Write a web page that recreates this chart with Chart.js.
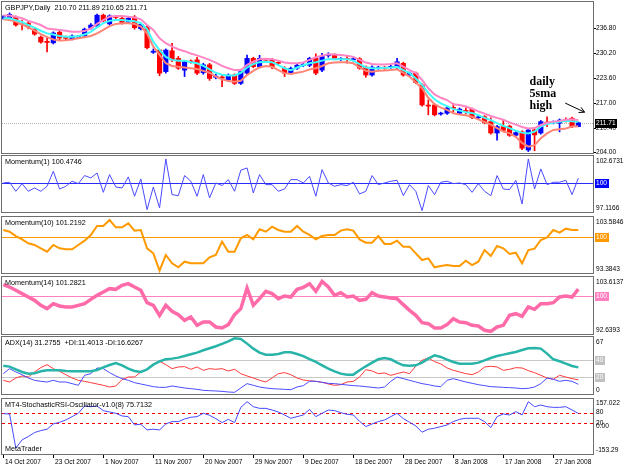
<!DOCTYPE html>
<html>
<head>
<meta charset="utf-8">
<script src="https://cdn.jsdelivr.net/npm/chart.js@4.4.0/dist/chart.umd.min.js"></script>
<style>
  html, body { margin: 0; padding: 0; background: #fff; }
  #wrap { position: relative; width: 625px; height: 469px; overflow: hidden; background: #fff; }
  #wrap canvas { position: absolute; left: 0; }
</style>
</head>
<body>
<div id="wrap"></div>
<script>
// GBPJPY daily bars, 14 Oct 2007 .. 31 Jan 2008
const opens = [239.3,239.4,239.6,237.9,238.0,236.4,234.3,233.2,232.8,235.6,
  234.2,233.9,234.3,234.6,236.7,237.2,240.1,237.8,239.7,239.3,
  238.3,239.6,236.5,237.0,230.3,230.9,225.2,230.7,228.7,225.6,
  228.0,228.3,224.9,227.0,223.7,223.8,223.0,224.3,222.1,224.8,
  228.7,226.5,228.4,228.3,227.5,226.1,224.8,226.1,226.8,226.9,
  228.7,225.6,229.4,229.6,228.4,228.6,228.3,228.6,226.4,224.3,
  226.1,226.3,226.3,226.3,227.4,224.3,224.8,221.7,216.3,216.4,
  214.0,214.2,215.6,214.2,214.9,215.3,213.0,213.3,212.0,209.0,
  210.7,210.8,208.4,209.3,204.5,209.8,209.0,211.8,211.7,211.6,
  212.5,212.9,210.70];
const highs = [240.0,240.7,239.9,238.8,238.5,236.8,234.6,234.3,235.7,236.0,
  234.6,234.9,234.7,236.7,237.9,240.4,240.4,240.2,240.0,239.6,
  239.6,240.0,238.0,237.3,231.2,231.0,231.2,232.7,229.2,228.2,
  228.3,229.0,227.4,227.4,224.5,224.3,224.6,224.6,225.5,229.6,
  229.0,229.5,228.6,228.7,227.8,226.5,226.4,227.2,227.4,229.0,
  229.9,230.0,230.2,229.9,228.9,229.3,228.9,228.9,226.7,226.7,
  226.6,226.6,226.9,228.7,227.7,225.1,225.1,222.0,217.7,216.7,
  214.5,215.8,216.8,215.6,215.6,215.6,213.5,213.6,213.0,211.0,
  212.4,211.1,209.4,209.6,210.1,210.1,212.3,213.3,212.2,212.7,
  213.0,213.2,211.89];
const lows = [239.0,239.2,237.2,236.2,236.5,234.8,232.7,230.4,232.5,233.5,
  233.6,233.6,234.0,234.3,236.4,237.0,238.3,237.5,239.2,237.7,
  238.0,236.4,236.2,231.2,230.0,224.1,224.8,227.8,225.8,223.9,
  227.4,224.4,224.5,222.9,223.3,221.2,222.7,221.8,221.8,224.4,
  226.2,226.2,227.9,226.0,227.1,223.9,224.5,225.8,226.5,226.5,
  224.4,225.2,229.0,228.4,228.1,227.4,228.0,225.8,223.7,224.0,
  225.8,225.8,226.0,226.0,224.0,224.0,222.0,216.1,213.8,213.5,
  213.7,213.9,214.5,213.9,214.0,212.8,212.7,211.4,208.7,207.1,
  209.4,208.1,208.1,204.6,204.1,204.3,208.7,210.7,211.4,209.3,
  211.9,210.4,210.65];
const closes = [239.7,240.3,237.5,237.7,237.0,235.1,233.0,232.9,235.4,234.1,
  234.0,234.6,234.4,236.4,237.5,240.1,238.6,239.9,239.5,238.0,
  239.3,236.8,237.7,231.5,230.6,224.8,230.9,228.3,226.1,227.8,
  227.7,224.8,227.0,223.4,224.0,223.5,224.3,222.1,225.2,228.7,
  226.5,228.7,228.2,226.5,227.4,224.8,226.1,226.9,227.1,228.7,
  224.8,229.2,229.7,228.7,228.6,228.4,228.6,226.1,224.3,226.4,
  226.3,226.1,226.6,227.8,224.3,224.8,222.3,216.4,216.1,213.8,
  214.2,215.6,215.5,215.3,214.7,213.1,213.2,211.7,209.0,210.7,
  209.7,208.4,209.1,205.0,209.8,208.5,212.0,211.6,211.9,212.4,
  212.3,210.7,211.71];

// moving average envelopes on the price chart
const maHigh = [240.0,240.0,239.7,239.3,238.6,238.1,237.5,236.6,236.4,236.2,
  236.0,235.7,235.7,235.9,236.6,237.8,238.8,239.7,239.9,239.9,
  239.7,239.5,239.0,237.5,236.2,234.0,232.7,231.8,231.1,230.6,
  230.0,229.5,228.9,228.3,227.6,226.7,226.1,225.6,225.6,227.0,
  227.8,228.5,228.6,228.5,228.1,227.6,227.4,227.4,227.6,228.3,
  229.0,229.4,229.8,229.7,229.6,229.4,229.1,228.3,227.6,227.2,
  227.1,227.1,227.2,227.4,226.5,225.6,224.8,223.0,220.8,219.2,
  218.3,217.7,216.6,216.4,216.0,215.4,214.7,214.1,213.5,213.0,
  212.5,211.8,211.2,210.6,210.2,210.3,211.1,211.7,212.0,212.2,
  212.5,212.6,212.4];
const maClose = [239.3,239.3,238.8,238.3,237.5,236.8,236.0,235.3,235.0,234.6,
  234.4,234.4,234.6,235.0,235.7,236.9,238.0,238.6,238.8,238.8,
  238.6,238.5,238.0,236.4,233.1,230.9,229.1,228.3,228.1,228.1,
  227.7,227.4,226.7,225.8,224.9,224.4,224.2,224.2,224.9,226.3,
  227.2,227.7,227.8,227.7,226.9,226.1,225.6,226.3,226.9,227.4,
  227.7,228.1,228.5,228.5,228.5,228.5,228.1,227.2,226.3,226.1,
  226.1,226.2,226.3,226.5,225.6,224.8,223.4,221.7,219.6,217.9,
  216.8,216.1,215.3,214.9,214.5,214.3,213.7,213.0,212.4,211.6,
  210.9,210.3,209.6,209.1,208.9,209.4,210.7,211.4,211.7,212.0,
  212.2,212.1,212.0];
const maLow = [239.0,238.8,238.4,237.7,236.9,236.0,235.1,234.3,233.7,233.4,
  233.5,233.7,234.0,234.3,234.6,235.3,236.2,237.2,237.8,238.0,
  238.0,237.8,237.1,235.3,231.8,229.6,227.4,226.7,226.5,226.3,
  226.1,225.9,225.4,224.9,223.9,223.2,222.7,222.5,222.8,224.3,
  225.4,226.3,226.7,226.5,225.6,224.8,224.6,224.9,225.2,225.8,
  226.1,226.7,227.4,227.6,227.7,227.7,227.4,226.3,225.4,225.2,
  225.4,225.5,225.6,225.8,224.9,223.9,222.3,220.8,218.3,216.6,
  215.7,215.1,214.2,213.9,213.7,213.3,212.6,211.9,211.2,210.3,
  209.4,208.9,208.0,206.4,205.4,205.8,207.6,208.9,209.8,210.0,
  210.2,210.7,210.8];

const mom1 = [100.00,100.07,99.17,99.93,99.17,99.50,99.17,99.67,101.16,99.40,
  99.67,100.17,99.93,100.73,100.50,100.99,99.07,100.83,99.60,99.50,
  100.60,98.68,100.40,97.35,99.60,97.52,102.38,98.84,98.74,100.73,
  100.17,98.68,100.83,98.51,100.00,99.74,100.33,99.17,101.26,101.49,
  99.01,100.83,99.83,99.83,99.17,99.40,100.33,100.33,100.00,100.66,
  98.68,101.32,100.00,99.67,99.83,99.74,100.07,98.91,99.17,100.73,
  99.83,100.00,100.17,100.26,98.74,99.83,99.17,97.25,99.74,98.84,
  100.07,100.17,99.93,100.00,99.83,99.07,99.93,99.17,98.74,100.73,
  99.40,99.34,100.26,97.91,102.38,99.40,101.39,99.83,100.07,100.07,
  100.26,98.84,100.4746];
const mom10 = [101.22,100.91,100.12,99.51,98.79,98.49,97.88,97.27,98.49,97.88,
  97.70,97.70,98.49,99.27,100.31,101.95,101.95,103.04,101.70,101.70,
  102.43,101.10,101.22,97.88,96.97,93.81,96.66,95.15,94.42,95.45,
  95.15,95.15,95.15,96.24,96.66,99.09,97.27,97.27,99.70,100.31,
  99.51,101.34,100.91,101.82,101.22,100.91,100.91,101.95,100.91,100.31,
  99.51,100.12,100.31,100.31,101.10,101.34,101.10,99.51,98.91,98.91,
  100.12,98.67,98.67,99.27,98.18,98.18,96.97,95.75,96.06,94.42,
  94.66,94.84,94.66,94.66,95.63,94.84,95.45,97.57,96.48,98.30,
  97.88,96.85,97.09,95.15,97.57,97.82,99.40,99.88,101.22,100.73,
  101.46,101.22,101.2192];
const mom14 = [102.14,101.69,101.05,100.41,99.76,99.12,98.16,97.52,98.48,98.03,
  97.84,97.84,98.16,98.48,99.31,100.08,100.73,101.37,101.24,102.01,
  102.33,101.69,101.05,98.67,98.16,96.23,98.16,97.00,96.36,95.27,
  95.91,94.31,94.95,94.95,93.99,93.80,94.44,96.36,97.52,101.50,
  98.16,99.44,100.85,100.41,99.44,99.96,99.76,101.24,101.62,102.33,
  100.85,102.75,101.69,100.08,100.60,99.76,99.96,99.12,99.31,100.60,
  99.96,99.76,99.57,99.44,98.29,97.20,96.23,94.82,94.63,93.80,
  93.80,94.44,95.59,94.95,94.82,94.31,94.18,93.35,93.15,93.99,
  94.31,96.23,96.55,96.04,97.84,97.39,98.48,98.48,98.67,99.76,
  99.96,99.76,101.2821];

const adx = [33.33,32.16,29.02,25.88,23.92,24.31,26.67,27.84,27.84,27.84,
  27.06,26.67,26.67,26.67,26.67,28.24,31.37,34.12,36.47,33.73,
  29.80,27.06,25.88,29.02,34.51,38.43,40.78,41.57,42.75,44.71,
  46.67,48.63,51.37,53.73,56.08,58.82,61.96,65.49,64.71,59.22,
  53.33,48.63,46.27,46.27,47.06,49.02,49.02,47.06,44.50,41.00,
  37.65,33.73,29.80,26.67,23.92,22.75,22.75,27.84,32.55,36.86,
  40.78,42.35,40.78,36.86,33.73,33.33,33.73,36.86,41.57,45.49,
  43.53,40.39,37.65,35.69,35.69,35.69,36.86,39.61,42.35,44.71,
  46.27,47.84,49.41,51.77,53.73,54.12,53.33,47.45,40.78,38.43,
  35.69,32.94,31.2755];
const plusDI = [23.92,29.80,25.88,22.75,18.82,16.08,14.90,14.12,16.08,14.12,
  14.12,12.16,10.20,21.96,23.92,30.59,29.80,25.10,21.18,18.04,
  16.08,13.33,11.76,10.20,8.63,7.84,7.84,9.41,8.24,7.06,
  6.27,5.49,4.31,3.92,3.53,3.14,2.35,1.96,7.06,12.16,
  10.20,8.24,7.06,6.27,5.88,5.49,5.10,8.24,9.80,15.00,
  14.90,13.73,12.55,12.16,11.37,10.59,9.80,9.41,8.63,7.84,
  7.06,8.24,14.90,20.00,18.04,16.08,14.12,12.16,10.98,9.41,
  8.63,16.08,18.04,16.08,14.12,12.55,10.98,9.80,8.63,8.24,
  7.84,7.45,7.06,6.27,6.67,8.24,12.16,18.82,17.25,14.90,
  16.08,14.90,11.4013];
const minusDI = [16.08,14.12,18.82,21.18,20.00,25.88,30.98,34.51,29.80,26.67,
  22.75,18.82,16.08,14.90,13.33,11.76,10.20,8.24,9.41,16.86,
  20.00,20.00,25.88,28.63,34.51,38.43,34.51,29.80,31.76,32.16,
  29.02,31.76,27.84,29.80,29.02,29.80,27.06,29.02,23.92,21.18,
  18.82,16.08,14.12,18.82,23.92,25.10,22.75,18.82,16.50,15.50,
  14.90,13.73,11.76,10.20,10.98,14.12,14.90,20.00,28.63,27.06,
  23.92,24.71,21.96,23.92,25.88,23.92,32.94,39.61,42.35,38.04,
  35.29,30.59,27.84,25.88,23.92,22.75,25.88,31.76,32.55,31.76,
  27.84,29.02,30.98,30.59,27.45,25.10,21.96,18.82,17.25,21.96,
  20.00,18.04,16.6267];

const stochRsi = [74.3,72.5,-120.2,-73.4,-54.7,-32.3,-21.0,-13.6,16.4,25.7,
  38.8,57.5,76.2,117.4,113.6,117.4,91.2,83.7,76.2,61.3,
  57.5,10.7,14.5,-17.3,-13.6,-17.3,16.4,29.5,29.5,44.4,
  53.8,57.5,76.2,65.0,46.3,23.8,42.5,23.8,109.9,141.7,
  113.6,104.3,104.3,94.9,83.7,66.9,48.2,57.5,66.9,98.7,
  57.5,76.2,94.9,91.2,80.0,70.6,66.9,31.3,1.4,16.4,
  29.5,38.8,57.5,76.2,46.3,25.7,5.1,-30.4,-13.6,-8.0,
  1.4,10.7,29.5,42.5,48.2,48.2,48.2,29.5,-4.2,57.5,
  72.5,66.9,85.6,66.9,141.7,113.6,123.0,113.6,109.9,109.9,
  113.6,94.9,75.7132];

// axes
const dateTickBars = [0, 8, 16, 24, 32, 40, 48, 56, 64, 72, 80, 88];
const dateTickLabels = ['14 Oct 2007', '23 Oct 2007', '1 Nov 2007', '11 Nov 2007',
  '20 Nov 2007', '29 Nov 2007', '9 Dec 2007', '18 Dec 2007', '28 Dec 2007',
  '8 Jan 2008', '17 Jan 2008', '27 Jan 2008'];
const priceTicks = [204.00, 210.40, 217.00, 223.60, 230.20, 236.80];
const priceRange = [203.72, 243.58];
const mom1Range = [97.1166, 102.6731];
const mom10Range = [93.3843, 103.5846];
const mom14Range = [92.6393, 103.6137];
const adxRange = [0, 67];
const adxLevels = [40, 20];
const stochRange = [-153.29, 157.022];
const stochLevels = [80, 20];

const FONT = '"Liberation Sans", Arial, sans-serif';
const TITLE_FONT = '7.2px ' + FONT;
const AXIS_FONT = '6.6px ' + FONT;
const X_MIN = -0.21;
const X_MAX = X_MIN + 591 / 6.25;
const last = closes.length - 1;
const wrap = document.getElementById('wrap');

function pts(arr) {
  return arr.map((v, i) => ({ x: i, y: v }));
}

function line(arr, color, width) {
  return { type: 'line', data: pts(arr), borderColor: color, borderWidth: width,
    pointRadius: 0, tension: 0, fill: false, order: 0 };
}

function hline(ctx, a, y, color, dash) {
  ctx.save();
  ctx.strokeStyle = color;
  ctx.lineWidth = 1;
  if (dash) ctx.setLineDash(dash);
  const yy = Math.round(y) + 0.5;
  ctx.beginPath();
  ctx.moveTo(a.left, yy);
  ctx.lineTo(a.right, yy);
  ctx.stroke();
  ctx.restore();
}

function axisText(ctx, a, y, text, box, fg) {
  ctx.save();
  ctx.font = AXIS_FONT;
  const x = a.right + 3;
  if (box) {
    const w = ctx.measureText(text).width;
    ctx.fillStyle = box;
    ctx.fillRect(x - 1, Math.round(y) - 4, Math.ceil(w) + 2, 9);
  }
  ctx.fillStyle = fg || '#000';
  ctx.textAlign = 'left';
  ctx.textBaseline = 'middle';
  ctx.fillText(text, x, y + 0.5);
  ctx.restore();
}

function title(ctx, a, text) {
  ctx.save();
  ctx.font = TITLE_FONT;
  ctx.fillStyle = '#000';
  ctx.textAlign = 'left';
  ctx.textBaseline = 'middle';
  ctx.fillText(text, a.left + 3, a.top + 6.5);
  ctx.restore();
}

function frame(ctx, a) {
  ctx.save();
  ctx.strokeStyle = '#6e6e6e';
  ctx.lineWidth = 1;
  ctx.strokeRect(a.left - 0.5, a.top - 0.5, a.right - a.left + 1, a.bottom - a.top + 1);
  ctx.restore();
}

function makePane(pane, type, datasets) {
  const padTop = Math.min(8, pane.top);
  const padBottom = pane.padBottom || 8;
  const c = document.createElement('canvas');
  c.width = 625;
  c.height = pane.bottom - pane.top + padTop + padBottom;
  c.style.top = (pane.top - padTop) + 'px';
  wrap.appendChild(c);
  return new Chart(c.getContext('2d'), {
    type: type,
    data: { datasets: datasets },
    options: {
      responsive: false,
      animation: false,
      devicePixelRatio: 1,
      events: [],
      layout: { padding: { left: 2, right: 32, top: padTop, bottom: padBottom } },
      plugins: { legend: { display: false }, tooltip: { enabled: false } },
      scales: {
        x: { type: 'linear', display: false, offset: false, min: X_MIN, max: X_MAX },
        y: { type: 'linear', display: false, min: pane.range[0], max: pane.range[1] }
      }
    },
    plugins: [{
      id: 'pane',
      beforeDatasetsDraw(chart) {
        if (pane.behind) pane.behind(chart.ctx, chart.chartArea, chart.scales.x, chart.scales.y);
      },
      afterDatasetsDraw(chart) {
        const a = chart.chartArea, ctx = chart.ctx;
        frame(ctx, a);
        title(ctx, a, pane.title);
        if (pane.front) pane.front(ctx, a, chart.scales.x, chart.scales.y);
      }
    }]
  });
}

function edgeLabels(ctx, a, top, bottom) {
  axisText(ctx, a, a.top + 4.5, top);
  axisText(ctx, a, a.bottom - 4, bottom);
}

// ---- main price pane ----
const candleColor = closes.map((c, i) => (c >= opens[i] ? '#0000ff' : '#ff0000'));
makePane({
  top: 2, bottom: 153, range: priceRange,
  title: 'GBPJPY,Daily  ' + [opens[last], highs[last], lows[last], closes[last]].map(v => v.toFixed(2)).join(' '),
  behind(ctx, a, xs, ys) {
    hline(ctx, a, ys.getPixelForValue(closes[last]), '#b4b4b4', [1, 1]);
  },
  front(ctx, a, xs, ys) {
    ctx.save();
    ctx.strokeStyle = '#000';
    ctx.lineWidth = 1;
    priceTicks.forEach(v => {
      const y = Math.round(ys.getPixelForValue(v)) + 0.5;
      ctx.beginPath();
      ctx.moveTo(a.right + 1, y);
      ctx.lineTo(a.right + 3, y);
      ctx.stroke();
      axisText(ctx, a, ys.getPixelForValue(v), v.toFixed(2));
    });
    ctx.restore();
    axisText(ctx, a, ys.getPixelForValue(closes[last]), closes[last].toFixed(2), '#000', '#fff');

    // note and arrow pointing at the 5 sma high line
    ctx.save();
    ctx.fillStyle = '#000';
    ctx.font = 'bold 12px "Liberation Serif", serif';
    ctx.textBaseline = 'middle';
    const tx = xs.getPixelForValue(84.2);
    ctx.fillText('daily', tx, ys.getPixelForValue(222.5));
    ctx.fillText('5sma', tx, ys.getPixelForValue(219.3));
    ctx.fillText('high', tx, ys.getPixelForValue(216.1));
    const x1 = xs.getPixelForValue(89.9), y1 = ys.getPixelForValue(216.9);
    const x2 = xs.getPixelForValue(93.0), y2 = ys.getPixelForValue(214.5);
    const ang = Math.atan2(y2 - y1, x2 - x1);
    ctx.strokeStyle = '#000';
    ctx.lineWidth = 1;
    ctx.beginPath();
    ctx.moveTo(x1, y1);
    ctx.lineTo(x2, y2);
    ctx.moveTo(x2, y2);
    ctx.lineTo(x2 - 6 * Math.cos(ang - 0.5), y2 - 6 * Math.sin(ang - 0.5));
    ctx.moveTo(x2, y2);
    ctx.lineTo(x2 - 6 * Math.cos(ang + 0.5), y2 - 6 * Math.sin(ang + 0.5));
    ctx.stroke();
    ctx.restore();
  }
}, 'bar', [
  line(maHigh, '#ff85c4', 2),
  line(maClose, '#3ffcfc', 2),
  line(maLow, '#ff8476', 2),
  { type: 'bar', data: lows.map((l, i) => ({ x: i, y: [l, highs[i]] })),
    backgroundColor: candleColor, barThickness: 1, grouped: false, order: 2 },
  { type: 'bar', data: opens.map((o, i) => ({ x: i, y: [o, closes[i]] })),
    backgroundColor: candleColor, barThickness: 4.5, minBarLength: 1, grouped: false, order: 1 }
]);

// ---- Momentum(1) ----
makePane({
  top: 156, bottom: 212, range: mom1Range,
  title: 'Momentum(1) ' + mom1[last].toFixed(4),
  behind(ctx, a, xs, ys) { hline(ctx, a, ys.getPixelForValue(100), '#2a2aff'); },
  front(ctx, a, xs, ys) {
    edgeLabels(ctx, a, mom1Range[1].toFixed(4), mom1Range[0].toFixed(4));
    axisText(ctx, a, ys.getPixelForValue(100), '100', '#0000ff', '#fff');
  }
}, 'line', [line(mom1, '#4a4aff', 1)]);

// ---- Momentum(10) ----
makePane({
  top: 217, bottom: 273, range: mom10Range,
  title: 'Momentum(10) ' + mom10[last].toFixed(4),
  behind(ctx, a, xs, ys) { hline(ctx, a, ys.getPixelForValue(100), '#ff9900'); },
  front(ctx, a, xs, ys) {
    edgeLabels(ctx, a, mom10Range[1].toFixed(4), mom10Range[0].toFixed(4));
    axisText(ctx, a, ys.getPixelForValue(100), '100', '#ff9900', '#fff');
  }
}, 'line', [line(mom10, '#ff9900', 2)]);

// ---- Momentum(14) ----
makePane({
  top: 277, bottom: 334, range: mom14Range,
  title: 'Momentum(14) ' + mom14[last].toFixed(4),
  behind(ctx, a, xs, ys) { hline(ctx, a, ys.getPixelForValue(100), '#ff80c0'); },
  front(ctx, a, xs, ys) {
    edgeLabels(ctx, a, mom14Range[1].toFixed(4), mom14Range[0].toFixed(4));
    axisText(ctx, a, ys.getPixelForValue(100), '100', '#ff80c0', '#fff');
  }
}, 'line', [line(mom14, '#ff6aa8', 3.5)]);

// ---- ADX(14) ----
makePane({
  top: 337, bottom: 394, range: adxRange,
  title: 'ADX(14) ' + adx[last].toFixed(4) + '  +DI:' + plusDI[last].toFixed(4) + ' -DI:' + minusDI[last].toFixed(4),
  behind(ctx, a, xs, ys) {
    adxLevels.forEach(v => hline(ctx, a, ys.getPixelForValue(v), '#c8c8c8'));
  },
  front(ctx, a, xs, ys) {
    edgeLabels(ctx, a, String(adxRange[1]), String(adxRange[0]));
    adxLevels.forEach(v => axisText(ctx, a, ys.getPixelForValue(v), String(v), '#c0c0c0', '#fff'));
  }
}, 'line', [
  line(adx, '#28b4a8', 2.5),
  line(plusDI, '#4b4bff', 1),
  line(minusDI, '#ff3a3a', 1)
]);

// ---- Stochastic RSI ----
makePane({
  top: 399, bottom: 454, range: stochRange, padBottom: 15,
  title: 'MT4-StochasticRSI-Oscillator-v1.0(8) ' + stochRsi[last].toFixed(4),
  behind(ctx, a, xs, ys) {
    stochLevels.forEach(v => hline(ctx, a, ys.getPixelForValue(v), '#ff0000', [3, 3]));
  },
  front(ctx, a, xs, ys) {
    axisText(ctx, a, a.top + 4, stochRange[1].toFixed(3));
    axisText(ctx, a, a.bottom - 4, stochRange[0].toFixed(2));
    stochLevels.forEach(v => axisText(ctx, a, ys.getPixelForValue(v) - 1, String(v)));
    axisText(ctx, a, ys.getPixelForValue(0) - 1, '0.00');
    ctx.save();
    ctx.font = TITLE_FONT;
    ctx.fillStyle = '#000';
    ctx.textBaseline = 'middle';
    ctx.fillText('MetaTrader', a.left + 3, a.bottom - 5);
    // date axis
    ctx.strokeStyle = '#000';
    ctx.lineWidth = 1;
    ctx.font = AXIS_FONT;
    dateTickBars.forEach((b, k) => {
      const x = Math.round(xs.getPixelForValue(b)) + 0.5;
      ctx.beginPath();
      ctx.moveTo(x, a.bottom + 1);
      ctx.lineTo(x, a.bottom + 4);
      ctx.stroke();
      ctx.fillText(dateTickLabels[k], x + 1.5, a.bottom + 8.5);
    });
    ctx.restore();
  }
}, 'line', [line(stochRsi, '#4747ff', 1)]);
</script>
</body>
</html>
